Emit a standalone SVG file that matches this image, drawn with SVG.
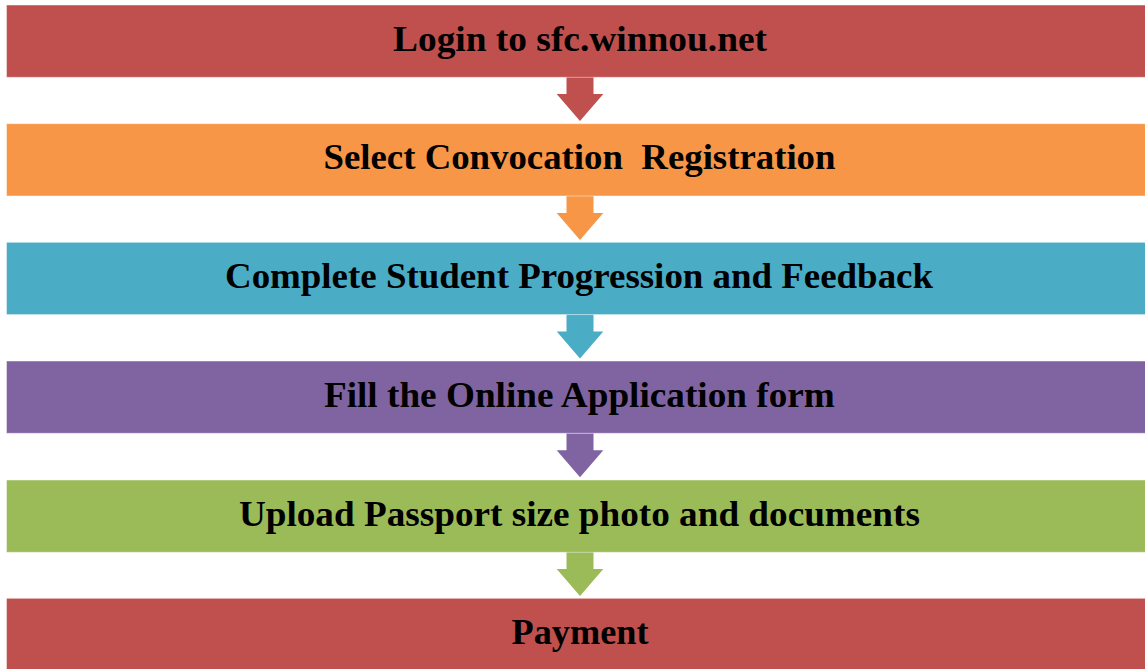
<svg xmlns="http://www.w3.org/2000/svg" width="1145" height="669" viewBox="0 0 1145 669">
<style>
.bar{stroke:#ffffff;stroke-opacity:0.45;stroke-width:1}
.lbl{font-family:"Liberation Serif","Times New Roman",serif;font-weight:bold;font-size:36px;fill:#000000;text-anchor:middle}
.red{fill:#C0504D}.orange{fill:#F79646}.teal{fill:#4BACC6}.purple{fill:#8064A2}.green{fill:#9BBB59}
</style>
<defs>
<path id="arr" d="M566.5,0 H593.5 V17 H603.3 L580,44 L556.7,17 H566.5 Z"/>
</defs>
<rect width="1145" height="669" fill="#ffffff"/>
<g id="connectors">
<use href="#arr" class="red" transform="translate(0,77)"/>
<use href="#arr" class="orange" transform="translate(0,196)"/>
<use href="#arr" class="teal" transform="translate(0,314.6)"/>
<use href="#arr" class="purple" transform="translate(0,433.3)"/>
<use href="#arr" class="green" transform="translate(0,552)"/>
</g>
<g id="step1">
<rect class="bar red" x="6.5" y="5" width="1145" height="72.3"/>
<text class="lbl" x="580" y="50.7" textLength="374" lengthAdjust="spacingAndGlyphs">Login to sfc.winnou.net</text>
</g>
<g id="step2">
<rect class="bar orange" x="6.5" y="123.7" width="1145" height="72.3"/>
<text class="lbl" x="579.5" y="169.4" textLength="512" lengthAdjust="spacingAndGlyphs" xml:space="preserve">Select Convocation  Registration</text>
</g>
<g id="step3">
<rect class="bar teal" x="6.5" y="242.3" width="1145" height="72.3"/>
<text class="lbl" x="579" y="287.8" textLength="708" lengthAdjust="spacingAndGlyphs">Complete Student Progression and Feedback</text>
</g>
<g id="step4">
<rect class="bar purple" x="6.5" y="361" width="1145" height="72.3"/>
<text class="lbl" x="579.4" y="407" textLength="511" lengthAdjust="spacingAndGlyphs">Fill the Online Application form</text>
</g>
<g id="step5">
<rect class="bar green" x="6.5" y="480" width="1145" height="72.3"/>
<text class="lbl" x="579.4" y="525.8" textLength="681" lengthAdjust="spacingAndGlyphs">Upload Passport size photo and documents</text>
</g>
<g id="step6">
<rect class="bar red" x="6.5" y="598.3" width="1145" height="72.3"/>
<text class="lbl" x="580" y="644.3" textLength="137" lengthAdjust="spacingAndGlyphs">Payment</text>
</g>
</svg>
